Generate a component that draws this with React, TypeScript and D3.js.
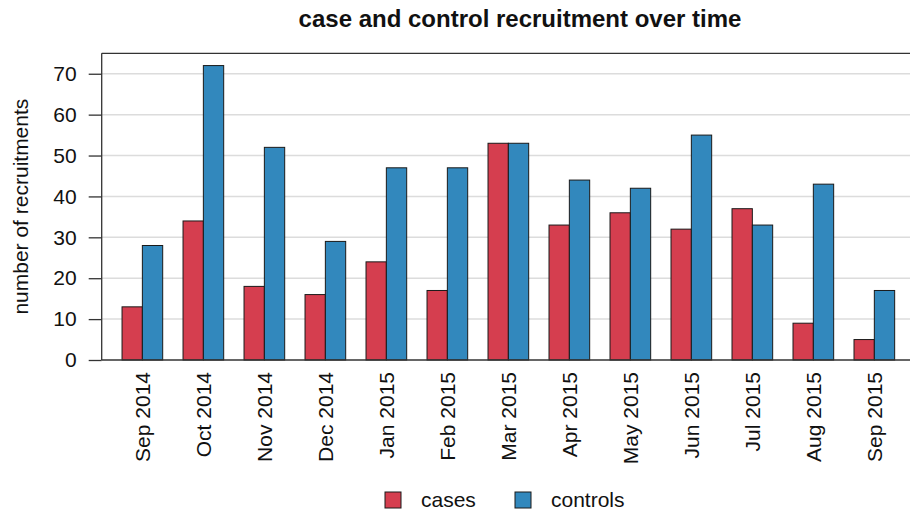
import React, { useEffect, useRef } from 'react';
import * as d3 from 'd3';

const months = [
  'Sep 2014', 'Oct 2014', 'Nov 2014', 'Dec 2014', 'Jan 2015', 'Feb 2015', 'Mar 2015',
  'Apr 2015', 'May 2015', 'Jun 2015', 'Jul 2015', 'Aug 2015', 'Sep 2015',
];
const cases = [13, 34, 18, 16, 24, 17, 53, 33, 36, 32, 37, 9, 5];
const controls = [28, 72, 52, 29, 47, 47, 53, 44, 42, 55, 33, 43, 17];
const seriesNames = ['cases', 'controls'];
const yTicks = [0, 10, 20, 30, 40, 50, 60, 70];

const colors: Record<string, string> = { cases: '#D53E4F', controls: '#3288BD' };
const font = '"Liberation Sans", Arial, Helvetica, sans-serif';
const fs = 21;

export default function App() {
  const svgRef = useRef<SVGSVGElement>(null);

  useEffect(() => {
    if (!svgRef.current) return;
    const svg = d3.select(svgRef.current);
    svg.selectAll('*').remove();

    const W = 910, H = 514;
    const left = 101.7, right = 915, top = 53.3, bottom = 360;

    const x = d3.scaleBand<string>()
      .domain(months)
      .range([left, right])
      .paddingInner(1 / 3)
      .paddingOuter(1 / 3);
    const xs = d3.scaleBand<string>().domain(seriesNames).range([0, x.bandwidth()]);
    const y = d3.scaleLinear().domain([0, 75]).range([bottom, top]);

    svg.attr('width', W).attr('height', H);

    // grid
    svg.append('g')
      .selectAll('line')
      .data(yTicks.filter(t => t > 0))
      .join('line')
      .attr('x1', left).attr('x2', right)
      .attr('y1', d => y(d)).attr('y2', d => y(d))
      .attr('stroke', '#dcdcdc').attr('stroke-width', 1.5);

    // bars
    const rows = months.map((m, i) => ({ m, cases: cases[i], controls: controls[i] }));
    const groups = svg.append('g')
      .selectAll('g')
      .data(rows)
      .join('g')
      .attr('transform', d => `translate(${x(d.m)},0)`);
    groups.selectAll('rect')
      .data(d => seriesNames.map(s => ({ s, v: (d as any)[s] as number })))
      .join('rect')
      .attr('x', d => xs(d.s)!)
      .attr('width', xs.bandwidth())
      .attr('y', d => y(d.v))
      .attr('height', d => y(0) - y(d.v))
      .attr('fill', d => colors[d.s])
      .attr('stroke', '#1a1a1a')
      .attr('stroke-width', 1);

    // frame: left, top, bottom
    const frame = svg.append('g').attr('stroke', '#333').attr('stroke-width', 1.3).attr('fill', 'none');
    frame.append('line').attr('x1', left).attr('x2', left).attr('y1', top).attr('y2', bottom);
    frame.append('line').attr('x1', left).attr('x2', right).attr('y1', top).attr('y2', top);
    frame.append('line').attr('x1', left).attr('x2', right).attr('y1', bottom).attr('y2', bottom);

    // y axis
    const yAxis = svg.append('g')
      .attr('transform', `translate(${left},0)`)
      .call(d3.axisLeft(y).tickValues(yTicks).tickSize(13).tickPadding(12).tickFormat(d3.format('d')));
    yAxis.select('.domain').remove();
    yAxis.selectAll('.tick line').attr('stroke', '#333').attr('stroke-width', 1.3);
    yAxis.selectAll('.tick text')
      .attr('font-family', font).attr('font-size', fs).attr('fill', '#111');

    // x labels
    svg.append('g')
      .selectAll('text')
      .data(months)
      .join('text')
      .attr('transform', d => `translate(${x(d)! + x.bandwidth() / 2 + 7.5},372) rotate(-90)`)
      .attr('text-anchor', 'end')
      .attr('font-family', font).attr('font-size', fs).attr('fill', '#111')
      .text(d => d);

    // y label
    svg.append('text')
      .attr('transform', `translate(28,${(top + bottom) / 2}) rotate(-90)`)
      .attr('text-anchor', 'middle')
      .attr('font-family', font).attr('font-size', fs).attr('fill', '#111')
      .text('number of recruitments');

    // title
    svg.append('text')
      .attr('x', 520).attr('y', 27)
      .attr('text-anchor', 'middle')
      .attr('font-family', font).attr('font-size', 24).attr('font-weight', 'bold').attr('fill', '#111')
      .text('case and control recruitment over time');

    // legend
    const legendX = [385, 515];
    const legend = svg.append('g')
      .selectAll('g')
      .data(seriesNames)
      .join('g')
      .attr('transform', (_, i) => `translate(${legendX[i]},492)`);
    legend.append('rect')
      .attr('width', 16).attr('height', 16)
      .attr('fill', d => colors[d])
      .attr('stroke', '#1a1a1a').attr('stroke-width', 1);
    legend.append('text')
      .attr('x', 36).attr('y', 15)
      .attr('font-family', font).attr('font-size', fs).attr('fill', '#111')
      .text(d => d);
  }, []);

  return (
    <svg ref={svgRef} style={{ position: 'absolute', left: 0, top: 0, background: '#fff' }} />
  );
}
